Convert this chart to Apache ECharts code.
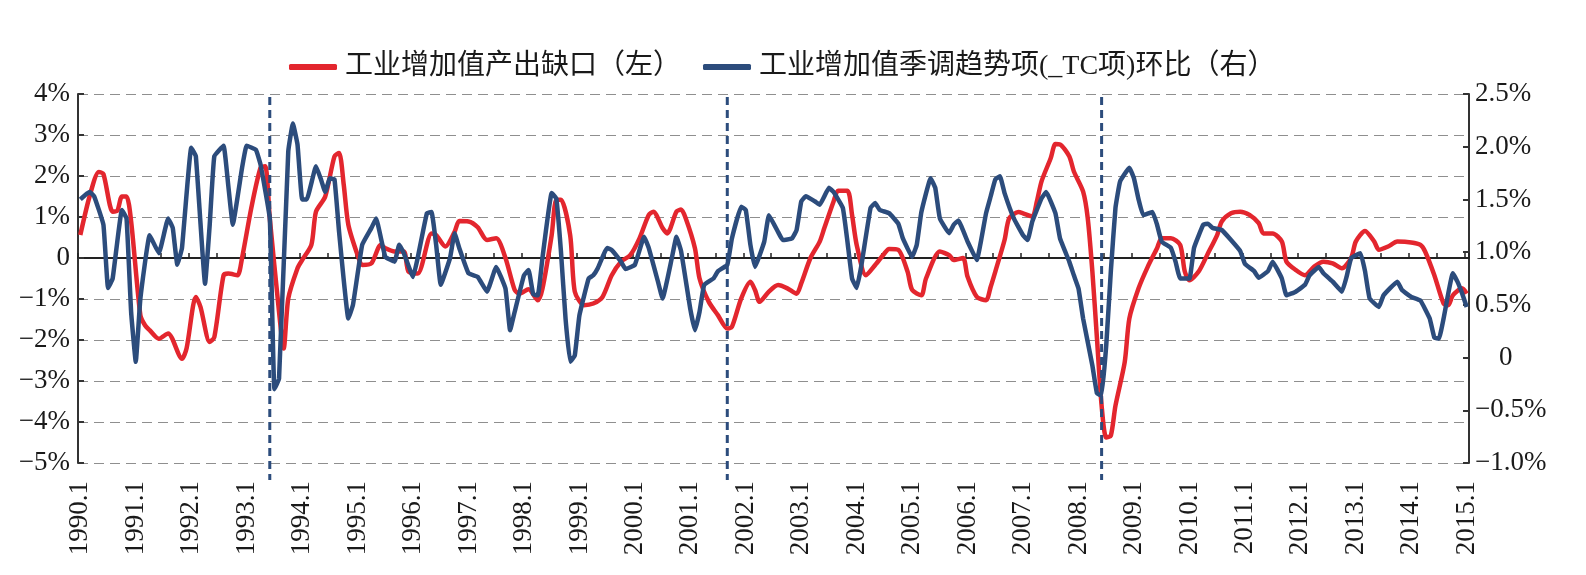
<!DOCTYPE html>
<html><head><meta charset="utf-8">
<script src="https://cdn.jsdelivr.net/npm/echarts@6/dist/echarts.min.js"></script>
<style>html,body{margin:0;padding:0;background:#fff;}#c{width:1586px;height:575px;}</style>
</head><body><div id="c"></div>
<script>
// ---- data (month index 0 = 1990.1) ----
const startYear = 1990;
const lastYear = 2015; // series end at 2015.1
const gapName = '工业增加值产出缺口（左）';
const tcName = '工业增加值季调趋势项(_TC项)环比（右）';
const gapMonths = [0,2,4,5,7,8,9,10,11,13,14,15,17,19,22,23,25,26,28,29,31,32,34,35,37,39,40,41,43,44,45,47,48,50,51,53,55,56,57,58,60,61,63,65,66,68,70,71,73,76,77,79,81,82,84,86,88,90,92,94,95,97,99,100,102,103,104,106,107,109,111,113,115,117,119,121,123,124,126,127,129,130,131,133,134,136,138,140,141,143,145,146,147,149,151,153,155,156,158,160,161,163,164,166,167,168,170,172,174,175,177,179,180,182,183,186,188,189,191,192,194,196,197,198,200,201,203,204,206,207,208,210,211,212,214,215,217,218,219,220,221,222,223,224,226,227,229,231,233,234,236,238,239,240,242,244,246,247,249,251,253,255,256,258,260,261,263,265,267,269,271,273,275,276,278,280,281,283,285,288,290,291,293,295,296,297,299,300];
const gapValues = [0.56,1.5,2.1,2.05,1.13,1.15,1.5,1.5,0.89,-1.4,-1.64,-1.76,-1.97,-1.84,-2.46,-2.2,-0.95,-1.19,-2.05,-1.93,-0.42,-0.38,-0.42,0,1.22,2.2,2.24,0.97,-1.31,-2.21,-0.99,-0.25,-0.05,0.32,1.13,1.5,2.48,2.56,1.79,0.81,0.07,-0.17,-0.13,0.32,0.24,0.16,0.16,-0.33,-0.38,0.6,0.56,0.28,0.64,0.9,0.89,0.75,0.44,0.48,0,-0.78,-0.87,-0.76,-1.03,-0.75,0.56,1.42,1.42,0.56,-0.82,-1.15,-1.11,-0.95,-0.42,-0.09,0.07,0.48,1.05,1.13,0.73,0.6,1.13,1.18,0.97,0.24,-0.5,-1.07,-1.4,-1.72,-1.68,-0.99,-0.58,-0.78,-1.07,-0.82,-0.66,-0.74,-0.87,-0.62,0,0.4,0.73,1.38,1.64,1.64,1.05,0.32,-0.42,-0.17,0.11,0.22,0.2,-0.33,-0.78,-0.91,-0.5,0.16,0.07,-0.05,0,-0.46,-0.95,-1.03,-0.7,-0.33,0.44,0.97,1.12,1.09,1.01,1.38,1.87,2.44,2.78,2.77,2.48,2.11,1.62,0.97,-0.33,-1.97,-3.6,-4.38,-4.33,-3.6,-2.54,-1.48,-0.74,-0.21,0.24,0.48,0.48,0.32,-0.33,-0.54,-0.33,0.11,0.56,0.89,1.09,1.13,1.05,0.85,0.6,0.6,0.4,-0.09,-0.29,-0.42,-0.21,-0.09,-0.13,-0.25,0,0.4,0.66,0.4,0.2,0.28,0.4,0.38,0.32,0.16,-0.42,-1.11,-1.15,-0.91,-0.74,-0.87];
const tcMonths = [0,1,2,3,5,6,7,9,10,11,12,13,15,17,19,20,21,22,24,25,27,28,29,31,32,33,35,36,38,39,41,42,43,45,46,47,48,49,51,52,53,54,55,56,58,59,61,63,64,66,68,69,70,72,73,75,76,77,78,80,81,82,84,86,88,90,92,93,94,96,97,98,99,100,102,103,104,105,106,107,108,110,111,112,114,115,117,118,120,122,123,125,126,128,129,130,132,133,134,135,137,138,140,141,143,144,145,146,148,149,151,152,154,155,156,157,159,160,162,163,165,166,167,168,169,171,172,173,175,177,178,180,181,182,184,185,186,188,189,190,192,194,195,196,197,198,199,200,202,204,205,206,208,209,211,212,214,215,216,217,219,220,221,222,223,224,225,227,228,229,230,232,233,234,236,237,238,240,241,243,244,245,247,249,251,252,254,255,257,258,260,261,263,265,266,268,269,271,273,274,275,277,278,279,281,282,285,286,288,290,292,293,294,295,297,298,299,300];
const tcValues = [1.50,1.54,1.57,1.53,1.26,0.66,0.75,1.40,1.32,0.43,-0.04,0.56,1.16,0.99,1.32,1.23,0.88,1.04,1.99,1.91,0.70,1.26,1.91,2.01,1.64,1.26,1.80,2.01,1.97,1.83,1.32,-0.30,-0.20,1.955,2.22,2.02,1.50,1.50,1.815,1.70,1.57,1.70,1.69,1.19,0.37,0.50,1.07,1.23,1.32,0.955,0.91,1.07,0.99,0.765,0.944,1.37,1.38,1.07,0.69,0.944,1.18,1.04,0.80,0.765,0.625,0.86,0.655,0.26,0.435,0.78,0.83,0.60,0.59,0.944,1.56,1.51,1.01,0.37,-0.04,0.02,0.40,0.75,0.78,0.85,1.04,1.02,0.91,0.84,0.88,1.146,1.04,0.72,0.56,0.944,1.146,1.01,0.46,0.26,0.435,0.69,0.75,0.82,0.88,1.13,1.43,1.40,1.07,0.86,1.10,1.35,1.19,1.115,1.13,1.21,1.48,1.53,1.48,1.45,1.61,1.57,1.42,1.10,0.75,0.66,0.87,1.42,1.465,1.40,1.37,1.27,1.13,0.955,1.07,1.38,1.70,1.61,1.32,1.18,1.26,1.30,1.10,0.925,1.13,1.37,1.53,1.69,1.72,1.56,1.32,1.16,1.115,1.29,1.51,1.57,1.37,1.13,0.91,0.78,0.655,0.37,-0.075,-0.34,-0.36,0.116,0.82,1.42,1.67,1.80,1.70,1.50,1.35,1.38,1.26,1.10,1.04,0.91,0.75,0.75,1.04,1.26,1.27,1.23,1.21,1.115,1.01,0.89,0.82,0.757,0.82,0.91,0.75,0.59,0.625,0.69,0.78,0.86,0.80,0.72,0.625,0.765,0.944,0.99,0.82,0.56,0.48,0.59,0.72,0.64,0.575,0.54,0.37,0.19,0.18,0.37,0.80,0.72,0.61,0.48];
const markMonths = [41, 140, 221];
// axis scales
const leftMin = -5, leftMax = 4, leftStep = 1;
const rightMin = -1, rightMax = 2.5, rightStep = 0.5;

// ---- build ----
const months = [];
for (let y = startYear; y <= lastYear; y++) {
  for (let m = 1; m <= 12; m++) {
    months.push(y + '.' + m);
    if (y === lastYear) break;
  }
}
const pair = (xs, vs) => xs.map((x, k) => [x, vs[k]]);
const FONT = "'Liberation Serif','Noto Sans CJK SC',serif";
const RED = '#E3262E', BLUE = '#2C4C7C';
const minus = s => s.replace('-', '\u2212');

const chart = echarts.init(document.getElementById('c'), null, {renderer: 'canvas'});
chart.setOption({
  animation: false,
  backgroundColor: '#fff',
  legend: {
    top: 48, left: 284, itemWidth: 48, itemHeight: 6, itemGap: 22, icon: 'roundRect',
    data: [gapName, tcName],
    textStyle: {fontSize: 28, fontFamily: FONT, color: '#1a1a1a', padding: [0, 0, 0, 3]}
  },
  grid: {left: 78, right: 117, top: 94, bottom: 112},
  xAxis: [{
    type: 'category', data: months, boundaryGap: true,
    axisLine: {show: false, onZero: false}, axisTick: {show: false},
    axisLabel: {interval: 11, rotate: 90, margin: 18, fontSize: 27, fontFamily: FONT, color: '#1a1a1a'},
    splitLine: {show: false}
  }, {
    type: 'category', data: months, boundaryGap: true, position: 'bottom',
    axisLine: {show: true, onZero: true, onZeroAxisIndex: 0, lineStyle: {color: '#222', width: 2}},
    axisTick: {show: true, inside: true, interval: 5, length: 5, lineStyle: {color: '#222', width: 1.5}},
    axisLabel: {show: false}, splitLine: {show: false}
  }],
  yAxis: [{
    type: 'value', position: 'left', min: leftMin, max: leftMax, interval: leftStep,
    axisLine: {show: true, lineStyle: {color: '#333', width: 2}},
    axisTick: {show: true, inside: true, length: 6, lineStyle: {color: '#333', width: 2}},
    axisLabel: {margin: 8, fontSize: 27, fontFamily: FONT, color: '#1a1a1a',
      formatter: v => v === 0 ? '0' : minus(v + '%')},
    splitLine: {show: true, lineStyle: {color: '#8f8f8f', width: 1.2, type: [10, 6]}}
  }, {
    type: 'value', position: 'right', min: rightMin, max: rightMax, interval: rightStep,
    axisLine: {show: true, lineStyle: {color: '#333', width: 2}},
    axisTick: {show: true, inside: true, length: 6, lineStyle: {color: '#333', width: 2}},
    axisLabel: {margin: 6, fontSize: 27, fontFamily: FONT, color: '#1a1a1a', align: 'left',
      formatter: v => Math.abs(v) < 1e-9 ? '{z|0}' : minus(v.toFixed(1) + '%'),
      rich: {
        z: {fontSize: 27, fontFamily: FONT, color: '#1a1a1a', padding: [0, 0, 0, 24]}
      }},
    splitLine: {show: false}
  }],
  series: [{
    name: gapName, type: 'line', xAxisIndex: 0, yAxisIndex: 0,
    data: pair(gapMonths, gapValues), showSymbol: false, smooth: 0.25,
    lineStyle: {color: RED, width: 4.5}, itemStyle: {color: RED}, z: 3
  }, {
    name: tcName, type: 'line', xAxisIndex: 0, yAxisIndex: 1,
    data: pair(tcMonths, tcValues), showSymbol: false, smooth: 0.1,
    lineStyle: {color: BLUE, width: 4.5}, itemStyle: {color: BLUE}, z: 4
  }, {
    name: 'marks', type: 'custom', xAxisIndex: 0, yAxisIndex: 0, clip: false, silent: true, z: 5,
    data: markMonths.map(m => [m]),
    encode: {x: 0},
    renderItem: (params, api) => {
      const top = api.coord([api.value(0), leftMax]);
      const bot = api.coord([api.value(0), leftMin]);
      return {type: 'line', shape: {x1: top[0], y1: top[1] + 3, x2: bot[0], y2: bot[1] + 17},
        style: {stroke: BLUE, lineWidth: 3, lineDash: [8, 5]}};
    }
  }]
});
</script></body></html>
